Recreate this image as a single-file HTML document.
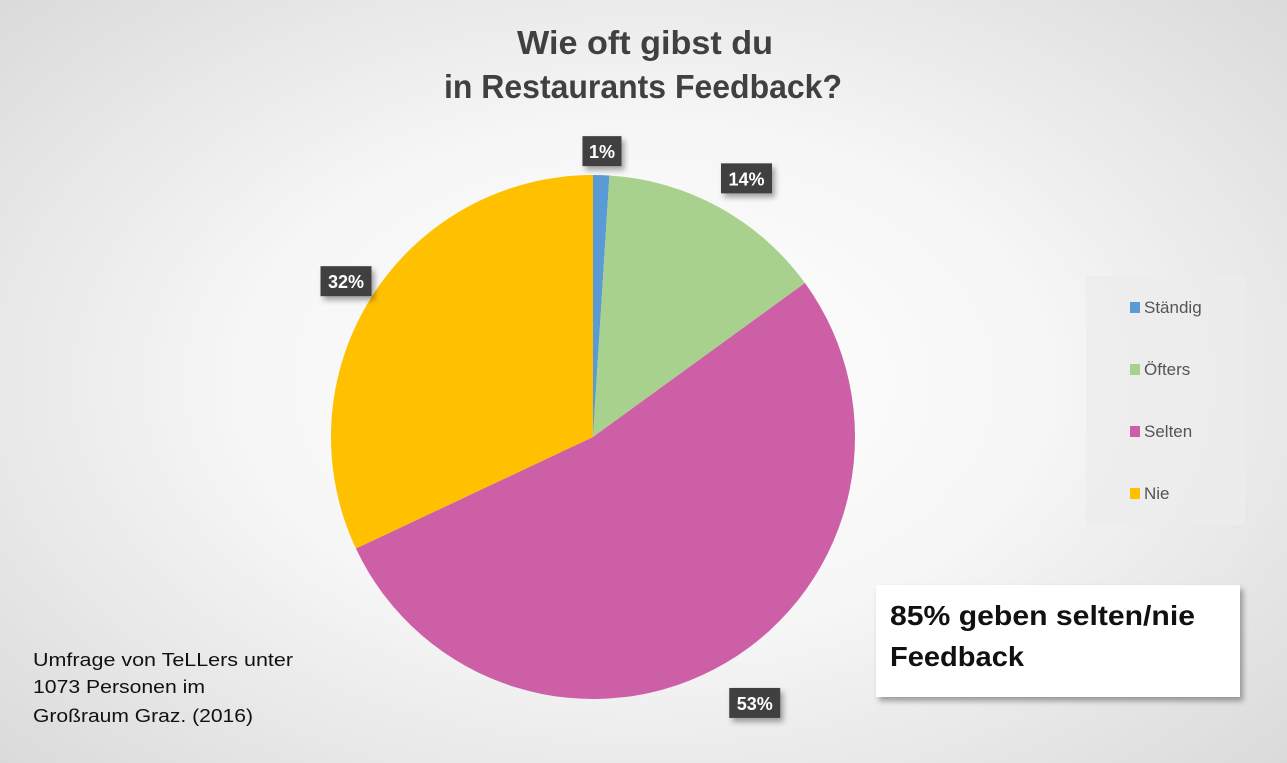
<!DOCTYPE html>
<html><head><meta charset="utf-8"><style>
body{margin:0;width:1287px;height:763px;overflow:hidden;font-family:"Liberation Sans","DejaVu Sans",sans-serif;}
#bg{position:absolute;left:0;top:0;width:1287px;height:763px;background:radial-gradient(ellipse 70% 75% at 50% 50%,#ffffff 0%,#f6f6f6 45%,#d9d9d9 100%);}
</style></head><body>
<div id="bg"></div>
<svg id="chart" width="1287" height="763" style="position:absolute;left:0;top:0">
<defs><filter id="sh" x="-10%" y="-10%" width="130%" height="140%"><feDropShadow dx="3" dy="4" stdDeviation="3" flood-color="#000" flood-opacity="0.35"/></filter></defs>
<text x="517" y="54" textLength="256" lengthAdjust="spacingAndGlyphs" font-size="33" font-weight="bold" fill="#404040">Wie oft gibst du</text>
<text x="444" y="98" textLength="398" lengthAdjust="spacingAndGlyphs" font-size="33" font-weight="bold" fill="#404040">in Restaurants Feedback?</text>
<g id="slices"></g>
<g id="labels"></g>
<rect x="1086" y="276" width="159" height="249" fill="#ececec" opacity="0.8"/>
<g id="legend"></g>
<rect x="876" y="585" width="364" height="112" fill="#fff" filter="url(#sh)"/>
<text x="890" y="625" textLength="305" lengthAdjust="spacingAndGlyphs" font-size="28" font-weight="bold" fill="#111">85% geben selten/nie</text>
<text x="890" y="666" textLength="134" lengthAdjust="spacingAndGlyphs" font-size="28" font-weight="bold" fill="#111">Feedback</text>
<text x="33" y="666" textLength="260" lengthAdjust="spacingAndGlyphs" font-size="18" fill="#111">Umfrage von TeLLers unter</text>
<text x="33" y="693" textLength="172" lengthAdjust="spacingAndGlyphs" font-size="18" fill="#111">1073 Personen im</text>
<text x="33" y="722" textLength="220" lengthAdjust="spacingAndGlyphs" font-size="18" fill="#111">Großraum Graz. (2016)</text>
</svg>
<script>
const categories=["Ständig","Öfters","Selten","Nie"];
const values=[1,14,53,32];
const colors=["#5b9bd5","#a9d18e","#cc5fa6","#ffc000"];
const cx=593,cy=437,r=262;
const ns="http://www.w3.org/2000/svg";
const total=values.reduce((a,b)=>a+b,0);
function pt(a,rad){return [cx+rad*Math.sin(a),cy-rad*Math.cos(a)];}
let acc=0;
const sg=document.getElementById('slices'),lg=document.getElementById('labels'),leg=document.getElementById('legend');
values.forEach((v,i)=>{
  const a0=acc/total*2*Math.PI;acc+=v;const a1=acc/total*2*Math.PI;
  const p0=pt(a0,r),p1=pt(a1,r);
  const p=document.createElementNS(ns,'path');
  p.setAttribute('d',`M${cx},${cy}L${p0[0]},${p0[1]}A${r},${r} 0 ${a1-a0>Math.PI?1:0} 1 ${p1[0]},${p1[1]}Z`);
  p.setAttribute('fill',colors[i]);
  
  
  sg.appendChild(p);
  const am=(a0+a1)/2;const rr=v<5?r+24:r+40;const c=pt(am,rr);
  const txt=Math.round(v/total*100)+'%';
  const w=txt.length>2?51:39;
  const bx=c[0]-w/2+(v<5?0:8),by=c[1]-15+(v<5?0:6);
  const b=document.createElementNS(ns,'rect');
  b.setAttribute('x',bx);b.setAttribute('y',by);b.setAttribute('width',w);b.setAttribute('height',30);
  b.setAttribute('fill','#404040');b.setAttribute('filter','url(#sh)');
  
  
  lg.appendChild(b);
  const t=document.createElementNS(ns,'text');
  t.setAttribute('x',bx+w/2);t.setAttribute('y',by+22);t.setAttribute('text-anchor','middle');
  t.setAttribute('font-size','18');t.setAttribute('font-weight','bold');t.setAttribute('fill','#fff');
  t.textContent=txt;
  
  
  lg.appendChild(t);
  const y=313+i*62;
  const s=document.createElementNS(ns,'rect');
  s.setAttribute('x',1130);s.setAttribute('y',y-11);s.setAttribute('width',10);s.setAttribute('height',11);s.setAttribute('fill',colors[i]);
  
  
  leg.appendChild(s);
  const lt=document.createElementNS(ns,'text');
  lt.setAttribute('x',1144);lt.setAttribute('y',y);lt.setAttribute('font-size','17');lt.setAttribute('fill','#555');
  lt.textContent=categories[i];
  
  
  leg.appendChild(lt);
});
</script>
</body></html>
